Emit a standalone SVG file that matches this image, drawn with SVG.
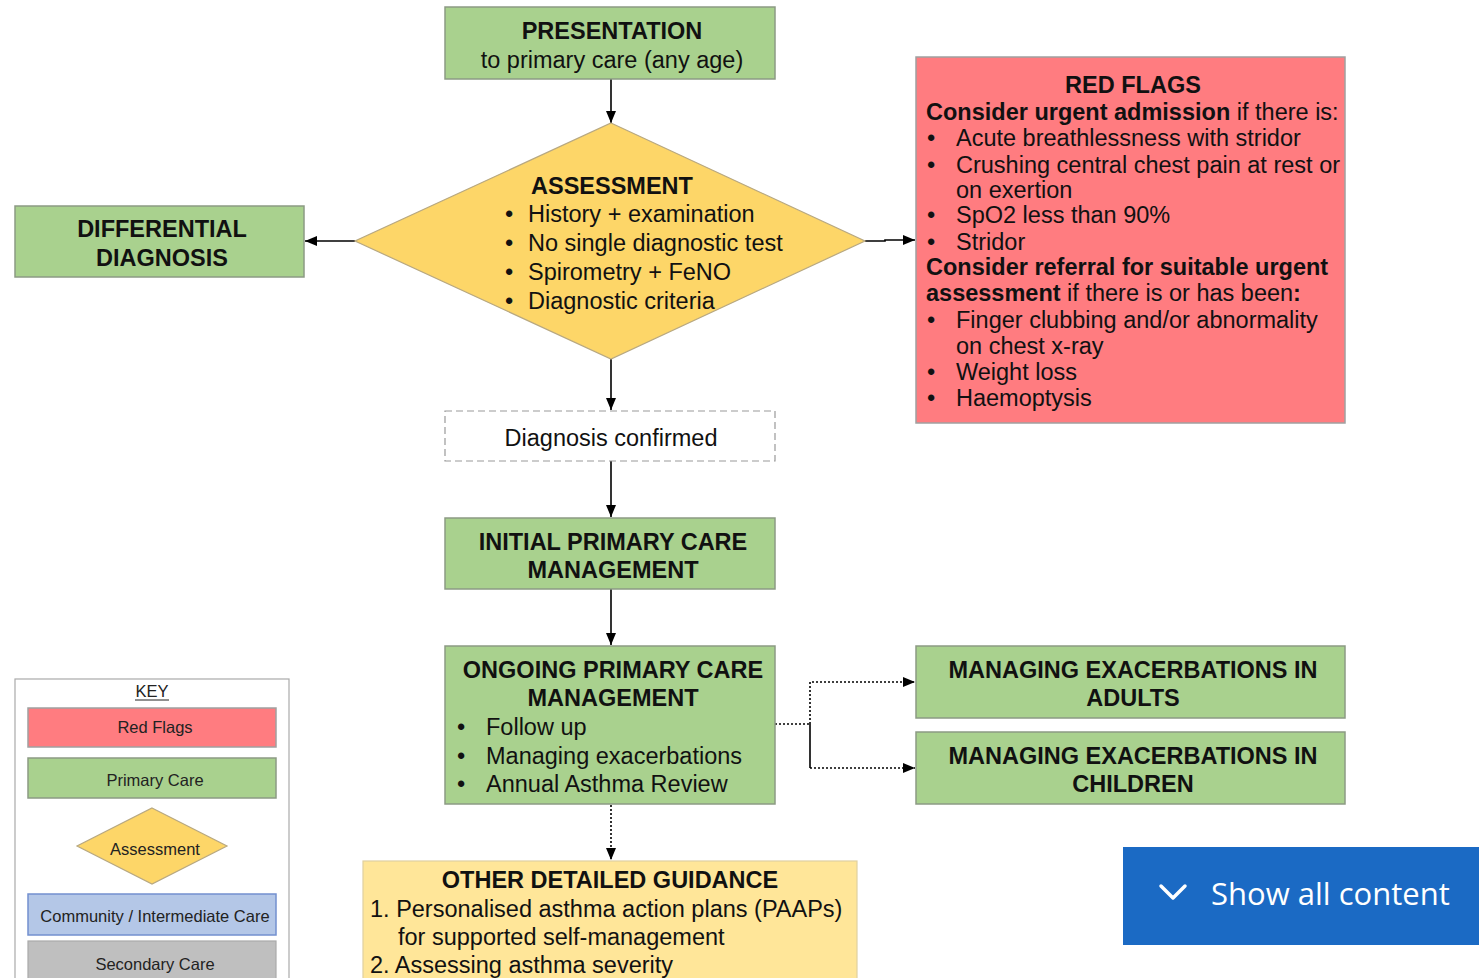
<svg xmlns="http://www.w3.org/2000/svg" width="1479" height="978" viewBox="0 0 1479 978">
  <defs>
    <marker id="arrow" viewBox="0 0 12 10" refX="12" refY="5" markerWidth="12" markerHeight="10" markerUnits="userSpaceOnUse" orient="auto">
      <path d="M0,0 L12,5 L0,10 Z" fill="#000"/>
    </marker>
    <style>
      text { font-family: "Liberation Sans", Arial, sans-serif; fill: #111; }
      .title { font-size: 23.5px; font-weight: bold; text-anchor: middle; }
      .body { font-size: 23.5px; }
      .mid { text-anchor: middle; }
      .b { font-weight: bold; }
      .green { fill: #a9d18e; stroke: #8c9a84; stroke-width: 1.5; }
      .red { fill: #ff7c80; stroke: #a0a0a0; stroke-width: 1.5; }
      .yellow { fill: #fdd668; stroke: #b8a880; stroke-width: 1.2; }
      .pale { fill: #ffe699; stroke: #e0d0a0; stroke-width: 1.2; }
      .edge { fill: none; stroke: #000; stroke-width: 1.6; }
      .dot { stroke-dasharray: 2 2; }
      .key { font-size: 16.5px; text-anchor: middle; fill: #222; }
      .btn { font-family: "Open Sans", "Noto Sans", sans-serif; font-size: 31px; fill: #fff; }
    </style>
  </defs>

  <rect width="1479" height="978" fill="#fff"/>

  <!-- connectors -->
  <g id="connectors">
    <line class="edge" x1="611" y1="79" x2="611" y2="123" marker-end="url(#arrow)"/>
    <line class="edge" x1="355" y1="241" x2="305" y2="241" marker-end="url(#arrow)"/>
    <polyline class="edge" points="865,241 885,241 885,240 915,240" marker-end="url(#arrow)"/>
    <line class="edge" x1="611" y1="359" x2="611" y2="410" marker-end="url(#arrow)"/>
    <line class="edge" x1="611" y1="461" x2="611" y2="517" marker-end="url(#arrow)"/>
    <line class="edge" x1="611" y1="589" x2="611" y2="645" marker-end="url(#arrow)"/>
    <polyline class="edge dot" points="775,724 810,724"/>
    <polyline class="edge dot" points="810,768 810,682 915,682" marker-end="url(#arrow)"/>
    <polyline class="edge dot" points="810,724 810,768 915,768" marker-end="url(#arrow)"/>
    <line class="edge dot" x1="611" y1="805" x2="611" y2="860" marker-end="url(#arrow)"/>
  </g>

  <!-- presentation -->
  <g id="presentation">
    <rect class="green" x="445" y="7" width="330" height="72"/>
    <text class="title" x="612" y="39">PRESENTATION</text>
    <text class="body mid" x="612" y="68">to primary care (any age)</text>
  </g>

  <!-- assessment -->
  <g id="assessment">
    <polygon class="yellow" points="611,123 865,241 611,359 355,241"/>
    <text class="b" x="531" y="194" font-size="23.5">ASSESSMENT</text>
    <g class="body">
      <text x="505" y="222">•</text><text x="528" y="222">History + examination</text>
      <text x="505" y="251">•</text><text x="528" y="251">No single diagnostic test</text>
      <text x="505" y="280">•</text><text x="528" y="280">Spirometry + FeNO</text>
      <text x="505" y="309">•</text><text x="528" y="309">Diagnostic criteria</text>
    </g>
  </g>

  <!-- differential diagnosis -->
  <g id="differential">
    <rect class="green" x="15" y="206" width="289" height="71"/>
    <text class="title" x="162" y="237">DIFFERENTIAL</text>
    <text class="title" x="162" y="266">DIAGNOSIS</text>
  </g>

  <!-- red flags -->
  <g id="red-flags">
    <rect class="red" x="916" y="57" width="429" height="366"/>
    <text class="title" x="1133" y="93">RED FLAGS</text>
    <g class="body">
      <text x="926" y="120"><tspan class="b">Consider urgent admission</tspan> if there is:</text>
      <text x="927" y="146">•</text><text x="956" y="146">Acute breathlessness with stridor</text>
      <text x="927" y="173">•</text><text x="956" y="173">Crushing central chest pain at rest or</text>
      <text x="956" y="198">on exertion</text>
      <text x="927" y="223">•</text><text x="956" y="223">SpO2 less than 90%</text>
      <text x="927" y="250">•</text><text x="956" y="250">Stridor</text>
      <text x="926" y="275" class="b">Consider referral for suitable urgent</text>
      <text x="926" y="301"><tspan class="b">assessment</tspan> if there is or has been<tspan class="b">:</tspan></text>
      <text x="927" y="328">•</text><text x="956" y="328">Finger clubbing and/or abnormality</text>
      <text x="956" y="354">on chest x-ray</text>
      <text x="927" y="380">•</text><text x="956" y="380">Weight loss</text>
      <text x="927" y="406">•</text><text x="956" y="406">Haemoptysis</text>
    </g>
  </g>

  <!-- diagnosis confirmed -->
  <g id="diagnosis-confirmed">
    <rect x="445" y="411" width="330" height="50" fill="#fff" stroke="#999" stroke-width="1.2" stroke-dasharray="7 4"/>
    <text class="body mid" x="611" y="446">Diagnosis confirmed</text>
  </g>

  <!-- initial management -->
  <g id="initial-management">
    <rect class="green" x="445" y="518" width="330" height="71"/>
    <text class="title" x="613" y="550">INITIAL PRIMARY CARE</text>
    <text class="title" x="613" y="578">MANAGEMENT</text>
  </g>

  <!-- ongoing management -->
  <g id="ongoing-management">
    <rect class="green" x="445" y="646" width="330" height="158"/>
    <text class="title" x="613" y="678">ONGOING PRIMARY CARE</text>
    <text class="title" x="613" y="706">MANAGEMENT</text>
    <g class="body">
      <text x="457" y="735">•</text><text x="486" y="735">Follow up</text>
      <text x="457" y="764">•</text><text x="486" y="764">Managing exacerbations</text>
      <text x="457" y="792">•</text><text x="486" y="792">Annual Asthma Review</text>
    </g>
  </g>

  <!-- exacerbations adults -->
  <g id="exacerbations-adults">
    <rect class="green" x="916" y="646" width="429" height="72"/>
    <text class="title" x="1133" y="678">MANAGING EXACERBATIONS IN</text>
    <text class="title" x="1133" y="706">ADULTS</text>
  </g>

  <!-- exacerbations children -->
  <g id="exacerbations-children">
    <rect class="green" x="916" y="732" width="429" height="72"/>
    <text class="title" x="1133" y="764">MANAGING EXACERBATIONS IN</text>
    <text class="title" x="1133" y="792">CHILDREN</text>
  </g>

  <!-- other guidance -->
  <g id="other-guidance">
    <rect class="pale" x="363" y="861" width="494" height="130"/>
    <text class="title" x="610" y="888">OTHER DETAILED GUIDANCE</text>
    <g class="body">
      <text x="370" y="917">1. Personalised asthma action plans (PAAPs)</text>
      <text x="398" y="945">for supported self-management</text>
      <text x="370" y="973">2. Assessing asthma severity</text>
    </g>
  </g>

  <!-- key -->
  <g id="key">
    <rect x="15" y="679" width="274" height="320" fill="#fff" stroke="#aaa" stroke-width="1.2"/>
    <text class="key" x="152" y="697">KEY</text>
    <line x1="135" y1="700" x2="169" y2="700" stroke="#222" stroke-width="1"/>
    <rect class="red" x="28" y="708" width="248" height="39"/>
    <text class="key" x="155" y="733">Red Flags</text>
    <rect class="green" x="28" y="758" width="248" height="40"/>
    <text class="key" x="155" y="786">Primary Care</text>
    <polygon class="yellow" points="152,808 227,846 152,884 77,846"/>
    <text class="key" x="155" y="855">Assessment</text>
    <rect x="28" y="894" width="248" height="41" fill="#b4c7e7" stroke="#7390cf" stroke-width="1.5"/>
    <text class="key" x="155" y="922">Community / Intermediate Care</text>
    <rect x="28" y="941" width="248" height="50" fill="#bfbfbf" stroke="#aaa" stroke-width="1.2"/>
    <text class="key" x="155" y="970">Secondary Care</text>
  </g>

  <!-- show all content button -->
  <g id="show-all">
    <rect x="1123" y="847" width="356" height="98" fill="#1b6ac4"/>
    <polyline points="1161,886 1173,898 1185,886" fill="none" stroke="#fff" stroke-width="3.5" stroke-linecap="round" stroke-linejoin="round"/>
    <text class="btn" x="1211" y="905">Show all content</text>
  </g>
</svg>
